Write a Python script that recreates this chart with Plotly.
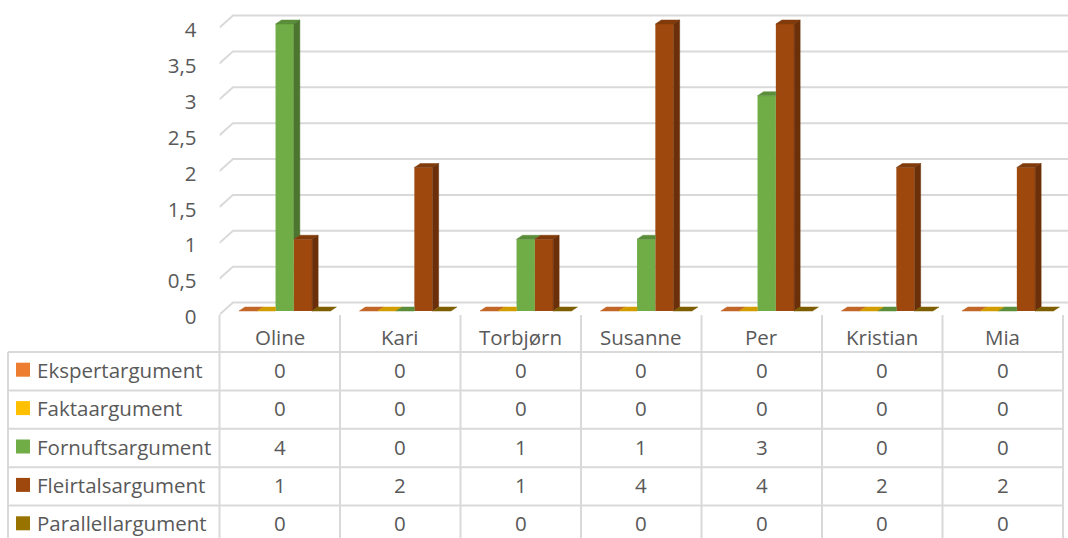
import plotly.graph_objects as go

# ---- data -------------------------------------------------------------
categories = ["Oline", "Kari", "Torbjørn", "Susanne", "Per", "Kristian", "Mia"]
series_names = ["Ekspertargument", "Faktaargument", "Fornuftsargument",
                "Fleirtalsargument", "Parallellargument"]
ekspert = [0, 0, 0, 0, 0, 0, 0]
fakta = [0, 0, 0, 0, 0, 0, 0]
fornufts = [4, 0, 1, 1, 3, 0, 0]
fleirtals = [1, 2, 1, 4, 4, 2, 2]
parallell = [0, 0, 0, 0, 0, 0, 0]
series_values = [ekspert, fakta, fornufts, fleirtals, parallell]
y_ticks = [0, 0.5, 1, 1.5, 2, 2.5, 3, 3.5, 4]

# ---- style ------------------------------------------------------------
colors = ["#ED7D31", "#FFC000", "#70AD47", "#9E480E", "#997300"]
TEXT = "#595959"
GRID = "#D9D9D9"
FONT = "Open Sans"
FS = 20.5

W, H = 1068, 538
PLOT_LEFT = 219.5          # px, front-left corner of the floor
CAT_PX = 120.5             # px per category
ZERO_PX = 311              # px of value 0 on the bar front plane
UNIT_PX = 71.75            # px per value unit
PLOT_BOTTOM = 330          # px

X_MAX = (W - PLOT_LEFT) / CAT_PX
Y_MIN = (ZERO_PX - PLOT_BOTTOM) / UNIT_PX
Y_MAX = ZERO_PX / UNIT_PX

BW = 18.3 / CAT_PX          # bar width in category units
OFF0 = -40.8 / CAT_PX       # left edge of first bar relative to category centre
DX = 6 / CAT_PX             # depth shift of bars (x)
DY = 4 / UNIT_PX            # depth shift of bars (y)
WALL_DX = 13.5 / CAT_PX     # depth of back wall
WALL_DY = 8.5 / UNIT_PX
FRONT_DY = -3.6 / UNIT_PX


def shade(hex_color, f):
    h = hex_color.lstrip("#")
    r, g, b = (int(h[i:i + 2], 16) for i in (0, 2, 4))
    return "#{:02X}{:02X}{:02X}".format(int(r * f), int(g * f), int(b * f))


fig = go.Figure()

# front faces of the columns
for i, (name, vals) in enumerate(zip(series_names, series_values)):
    fig.add_trace(go.Bar(
        x=[c + 0.5 for c in range(len(categories))], y=vals, name=name,
        width=BW, offset=OFF0 + i * BW,
        marker=dict(color=colors[i], line=dict(width=0)),
        showlegend=False, hoverinfo="skip",
    ))

# top and side faces giving the 3-D look
last = len(series_values) - 1
for i, vals in enumerate(series_values):
    tx, ty, sx, sy = [], [], [], []
    for c, v in enumerate(vals):
        xl = c + 0.5 + OFF0 + i * BW
        xr = xl + BW
        nxt = series_values[i + 1][c] if i < last else None
        if nxt is not None and nxt > v:
            poly = [(xl, v), (xr, v), (xr, v + DY), (xl + DX, v + DY)]
        else:
            poly = [(xl, v), (xr, v), (xr + DX, v + DY), (xl + DX, v + DY)]
        for px, py in poly + [poly[0]]:
            tx.append(px)
            ty.append(py)
        tx.append(None)
        ty.append(None)
        lo = max(nxt, 0) if nxt is not None else 0
        if v > lo:
            side = [(xr, lo), (xr, v), (xr + DX, v + DY), (xr + DX, lo + DY)]
            for px, py in side + [side[0]]:
                sx.append(px)
                sy.append(py)
            sx.append(None)
            sy.append(None)
    fig.add_trace(go.Scatter(
        x=tx, y=ty, mode="lines", fill="toself",
        fillcolor=shade(colors[i], 0.82),
        line=dict(color=shade(colors[i], 0.82), width=0.5),
        showlegend=False, hoverinfo="skip"))
    if sx:
        fig.add_trace(go.Scatter(
            x=sx, y=sy, mode="lines", fill="toself",
            fillcolor=shade(colors[i], 0.68),
            line=dict(color=shade(colors[i], 0.68), width=0.5),
            showlegend=False, hoverinfo="skip"))

shapes = []
# gridlines on the side and back walls
for v in y_ticks:
    shapes.append(dict(
        type="path", xref="x", yref="y", layer="below",
        path="M 0,{a} L {b},{c} L {d},{c}".format(
            a=v + FRONT_DY, b=WALL_DX, c=v + WALL_DY, d=X_MAX),
        line=dict(color=GRID, width=2)))


# ---- data table below the chart ----------------------------------------
def px_x(p):
    return p / W


def px_y(p):
    return 1 - p / H


TABLE_LEFT = 8
HEADER_TOP = 315
HEADER_BOTTOM = 352
ROW_H = 38.4
n_rows = len(series_names)

for r in range(n_rows + 1):
    yy = HEADER_BOTTOM + r * ROW_H
    shapes.append(dict(type="line", xref="paper", yref="paper",
                       x0=px_x(TABLE_LEFT), x1=px_x(PLOT_LEFT + CAT_PX * len(categories)),
                       y0=px_y(yy), y1=px_y(yy), line=dict(color=GRID, width=2)))
shapes.append(dict(type="line", xref="paper", yref="paper",
                   x0=px_x(TABLE_LEFT), x1=px_x(TABLE_LEFT),
                   y0=px_y(HEADER_BOTTOM), y1=0, line=dict(color=GRID, width=2)))
for c in range(len(categories) + 1):
    xx = PLOT_LEFT + c * CAT_PX
    shapes.append(dict(type="line", xref="paper", yref="paper",
                       x0=px_x(xx), x1=px_x(xx), y0=px_y(HEADER_TOP), y1=0,
                       line=dict(color=GRID, width=2)))

annotations = []
for c, name in enumerate(categories):
    annotations.append(dict(
        x=px_x(PLOT_LEFT + (c + 0.5) * CAT_PX), y=px_y(337), xref="paper", yref="paper",
        text=name, showarrow=False, xanchor="center", yanchor="middle",
        font=dict(family=FONT, size=FS, color=TEXT)))

for r, (name, vals) in enumerate(zip(series_names, series_values)):
    yc = HEADER_BOTTOM + (r + 0.5) * ROW_H - 1.5
    shapes.append(dict(type="rect", xref="paper", yref="paper",
                       x0=px_x(16), x1=px_x(30), y0=px_y(yc - 7), y1=px_y(yc + 7),
                       fillcolor=colors[r], line=dict(width=0)))
    annotations.append(dict(
        x=px_x(35), y=px_y(yc), xref="paper", yref="paper", text=name,
        showarrow=False, xanchor="left", yanchor="middle",
        font=dict(family=FONT, size=FS, color=TEXT)))
    for c, v in enumerate(vals):
        annotations.append(dict(
            x=px_x(PLOT_LEFT + (c + 0.5) * CAT_PX), y=px_y(yc), xref="paper", yref="paper",
            text=str(v), showarrow=False, xanchor="center", yanchor="middle",
            font=dict(family=FONT, size=FS, color=TEXT)))

fig.update_layout(
    width=W, height=H,
    margin=dict(l=0, r=0, t=0, b=0, autoexpand=False),
    paper_bgcolor="white", plot_bgcolor="white",
    barmode="overlay",
    separators=", ",
    showlegend=False,
    font=dict(family=FONT, size=FS, color=TEXT),
    xaxis=dict(domain=[PLOT_LEFT / W, 1], range=[0, X_MAX],
               showgrid=False, zeroline=False, showline=False,
               showticklabels=False, ticks="", fixedrange=True),
    yaxis=dict(domain=[1 - PLOT_BOTTOM / H, 1], range=[Y_MIN, Y_MAX],
               tickvals=y_ticks, showgrid=False, zeroline=False, showline=False,
               ticks="", ticklabelstandoff=22, ticklabelshift=6,
               tickfont=dict(family=FONT, size=FS, color=TEXT), fixedrange=True),
    shapes=shapes,
    annotations=annotations,
)

fig.write_html("out.html")
